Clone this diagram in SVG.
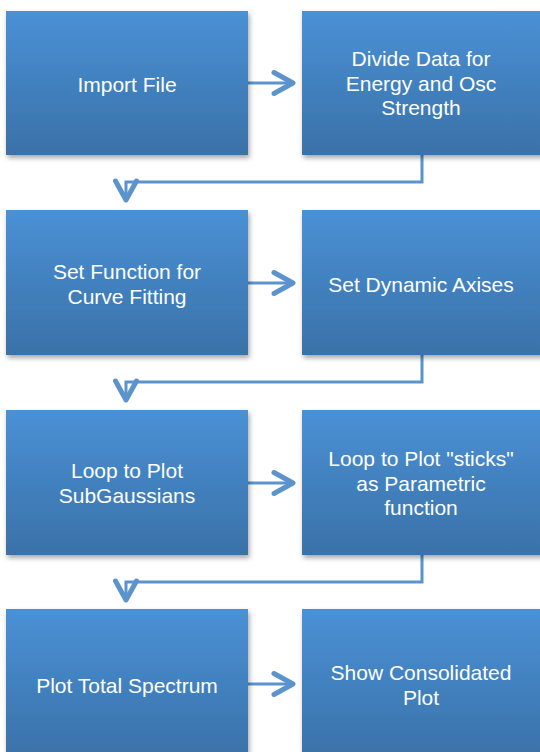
<svg xmlns="http://www.w3.org/2000/svg" width="540" height="752" viewBox="0 0 540 752">
<defs>
<linearGradient id="g" x1="0" y1="0" x2="0" y2="1">
<stop offset="0" stop-color="#4A91D6"/>
<stop offset="1" stop-color="#3A71A8"/>
</linearGradient>
<filter id="sh" x="-10%" y="-10%" width="125%" height="130%">
<feDropShadow dx="1.5" dy="3" stdDeviation="2.5" flood-color="#000" flood-opacity="0.35"/>
</filter>
<marker id="ah" markerUnits="userSpaceOnUse" markerWidth="30" markerHeight="30" viewBox="-25 -15 30 30" refX="0" refY="0" orient="auto">
<path d="M-19,-10.5 L0,0 L-19,10.5" fill="none" stroke="#5B94CC" stroke-width="5" stroke-linecap="round" stroke-linejoin="round"/>
</marker>
</defs>
<style>
.box{fill:url(#g);filter:url(#sh)}
.t{font-family:"Liberation Sans",Arial,sans-serif;font-size:21px;fill:#fff;text-anchor:middle}
.c{fill:none;stroke:#5B94CC;stroke-width:3;marker-end:url(#ah)}
</style>
<rect width="540" height="752" fill="#fff"/>
<g id="connectors">
<path class="c" d="M248,83 H293"/>
<path class="c" d="M248,283 H293"/>
<path class="c" d="M248,483 H293"/>
<path class="c" d="M248,684 H293"/>
<path class="c" d="M422,155 V182 H126 V200"/>
<path class="c" d="M422,355 V382 H126 V400"/>
<path class="c" d="M422,555 V582 H126 V600"/>
</g>
<g id="n1"><rect class="box" x="6" y="11" width="242" height="144"/><text class="t" x="127" y="92">Import File</text></g>
<g id="n2"><rect class="box" x="302" y="11" width="242" height="144"/><text class="t" x="421" y="66">Divide Data for</text><text class="t" x="421" y="90.5">Energy and Osc</text><text class="t" x="421" y="115">Strength</text></g>
<g id="n3"><rect class="box" x="6" y="210" width="242" height="145"/><text class="t" x="127" y="279">Set Function for</text><text class="t" x="127" y="303.5">Curve Fitting</text></g>
<g id="n4"><rect class="box" x="302" y="210" width="242" height="145"/><text class="t" x="421" y="292">Set Dynamic Axises</text></g>
<g id="n5"><rect class="box" x="6" y="410" width="242" height="145"/><text class="t" x="127" y="478">Loop to Plot</text><text class="t" x="127" y="502.5">SubGaussians</text></g>
<g id="n6"><rect class="box" x="302" y="410" width="242" height="145"/><text class="t" x="421" y="466">Loop to Plot "sticks"</text><text class="t" x="421" y="490.5">as Parametric</text><text class="t" x="421" y="515">function</text></g>
<g id="n7"><rect class="box" x="6" y="609" width="242" height="150"/><text class="t" x="127" y="693">Plot Total Spectrum</text></g>
<g id="n8"><rect class="box" x="302" y="609" width="242" height="150"/><text class="t" x="421" y="680">Show Consolidated</text><text class="t" x="421" y="704.5">Plot</text></g>
</svg>
